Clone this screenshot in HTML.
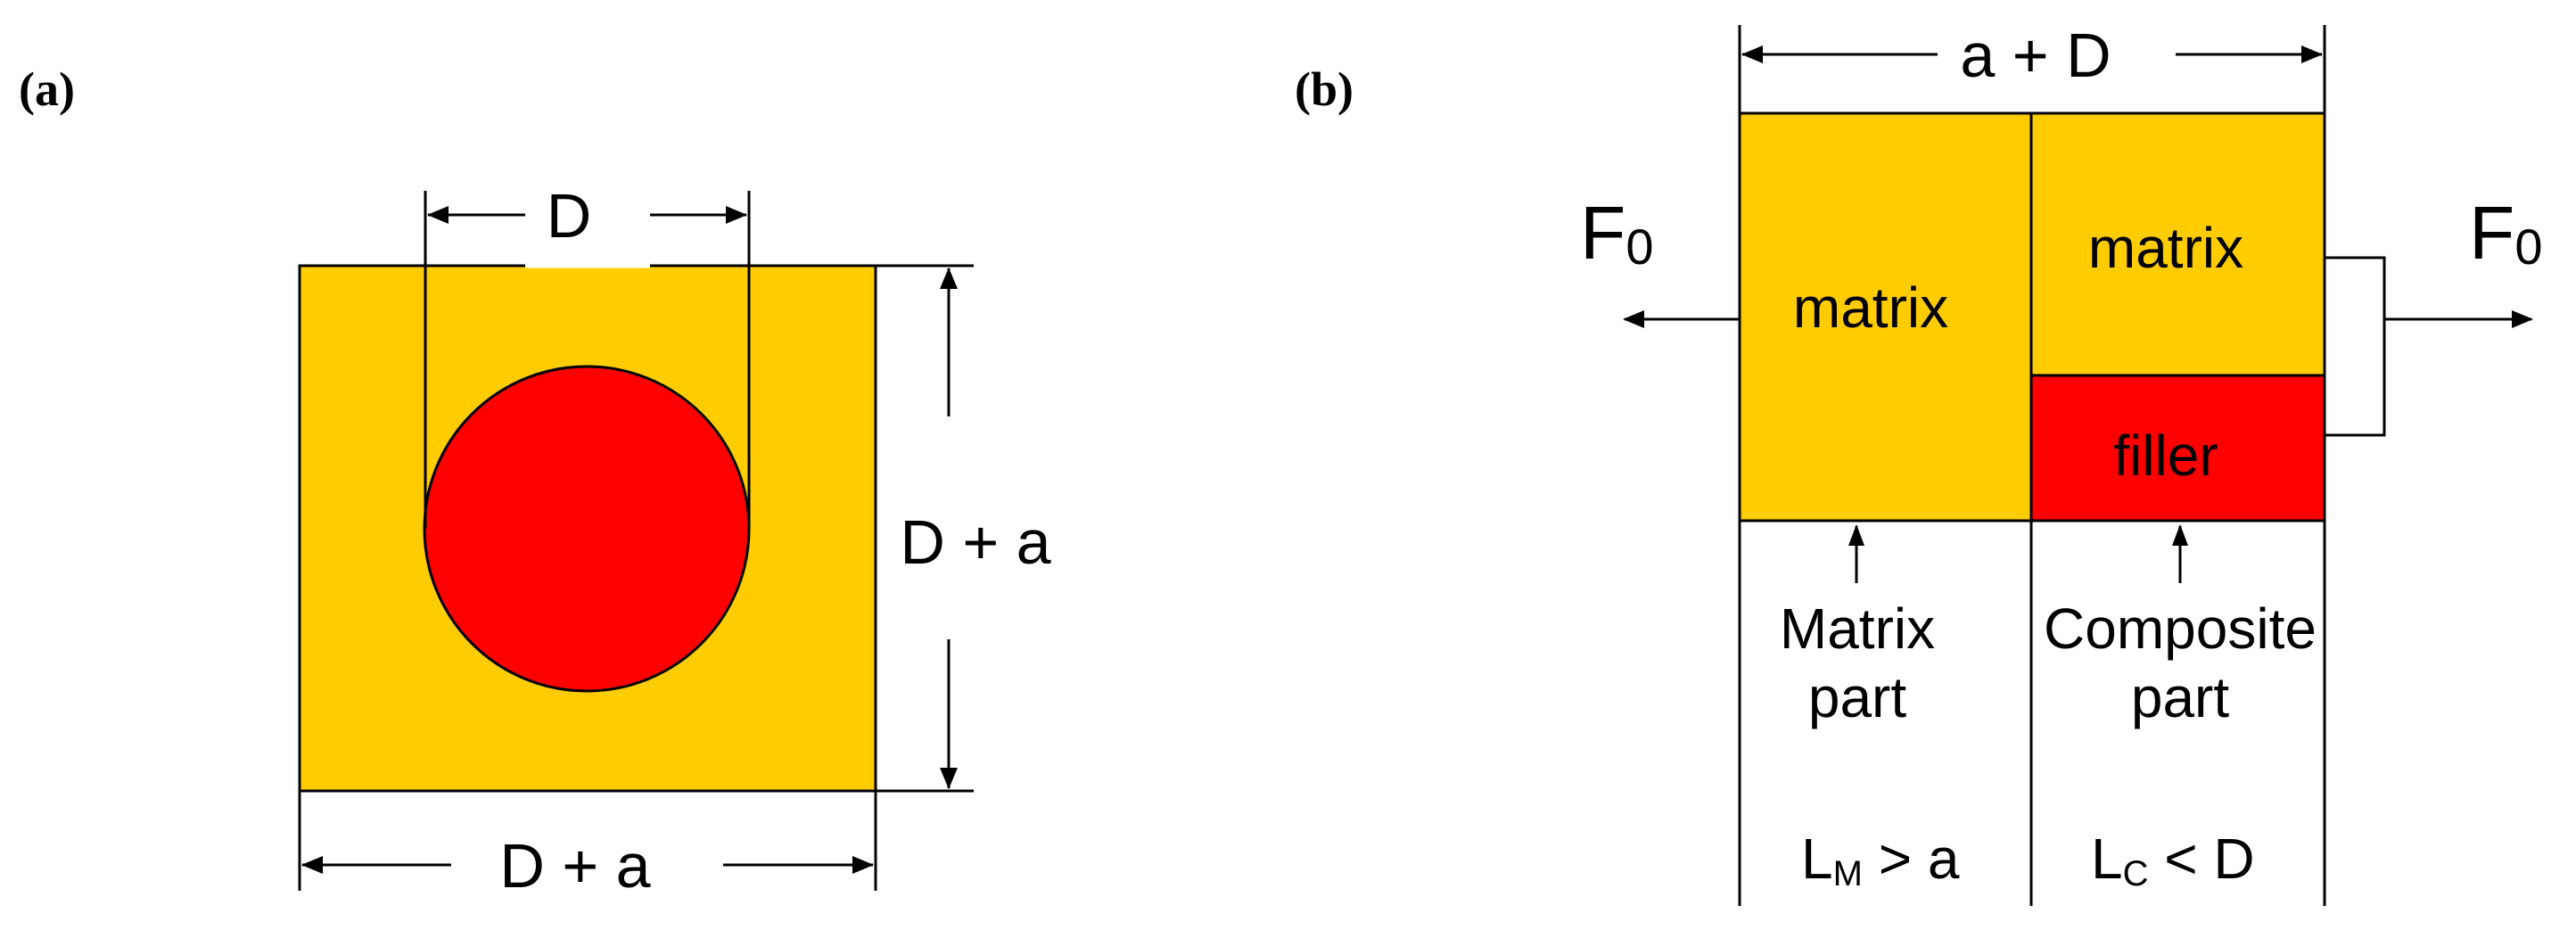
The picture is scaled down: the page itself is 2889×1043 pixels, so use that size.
<!DOCTYPE html>
<html><head><meta charset="utf-8"><style>
html,body{margin:0;padding:0;background:#fff;}
svg{display:block;}
text{font-family:"Liberation Sans",sans-serif;fill:#000;}
</style></head><body>
<svg width="2889" height="1043" viewBox="0 0 2889 1043" xmlns="http://www.w3.org/2000/svg">
<g stroke="#000" stroke-width="3" fill="none">
<!-- Panel a -->
<rect x="336" y="298" width="646" height="589" fill="#FFCC00"/>
<line x1="589" y1="298" x2="729" y2="298" stroke="#fff" stroke-width="5"/>
<circle cx="658" cy="593" r="182" fill="#FF0000"/>
<line x1="477" y1="214" x2="477" y2="593"/>
<line x1="840" y1="214" x2="840" y2="593"/>
<line x1="589" y1="241" x2="480" y2="241"/>
<line x1="729" y1="241" x2="837" y2="241"/>
<line x1="982" y1="298" x2="1092" y2="298"/>
<line x1="982" y1="887" x2="1092" y2="887"/>
<line x1="1064" y1="467" x2="1064" y2="301"/>
<line x1="1064" y1="717" x2="1064" y2="884"/>
<line x1="336" y1="887" x2="336" y2="999"/>
<line x1="982" y1="887" x2="982" y2="999"/>
<line x1="506" y1="970" x2="339" y2="970"/>
<line x1="811" y1="970" x2="979" y2="970"/>
<!-- Panel b -->
<rect x="1951" y="127" width="327" height="457" fill="#FFCC00"/>
<rect x="2278" y="127" width="329" height="294" fill="#FFCC00"/>
<rect x="2278" y="421" width="329" height="163" fill="#FF0000"/>
<line x1="1951" y1="28" x2="1951" y2="1016"/>
<line x1="2607" y1="28" x2="2607" y2="1016"/>
<line x1="2278" y1="584" x2="2278" y2="1016"/>
<line x1="2173" y1="61" x2="1954" y2="61"/>
<line x1="2440" y1="61" x2="2604" y2="61"/>
<line x1="1951" y1="358" x2="1822" y2="358"/>
<polyline points="2607,289 2674,289 2674,488 2607,488"/>
<line x1="2674" y1="358" x2="2839" y2="358"/>
<line x1="2082" y1="654" x2="2082" y2="590"/>
<line x1="2445" y1="654" x2="2445" y2="590"/>
</g>
<g fill="#000">
<path d="M479,241 l24,-10 v20z"/><path d="M838,241 l-24,-10 v20z"/>
<path d="M1064,300 l-10,24 h20z"/><path d="M1064,885 l-10,-24 h20z"/>
<path d="M338,970 l24,-10 v20z"/><path d="M980,970 l-24,-10 v20z"/>
<path d="M1953,61 l24,-10 v20z"/><path d="M2605,61 l-24,-10 v20z"/>
<path d="M1820,358 l24,-10 v20z"/><path d="M2841,358 l-24,-10 v20z"/>
<path d="M2082,588 l-9,24 h18z"/><path d="M2445,588 l-9,24 h18z"/>
</g>
<text x="21" y="118" font-weight="bold" font-size="54" style="font-family:'Liberation Serif',serif">(a)</text>
<text x="1452" y="118" font-weight="bold" font-size="54" style="font-family:'Liberation Serif',serif">(b)</text>
<g font-size="70" text-anchor="middle">
<text x="638" y="266">D</text>
<text x="1094" y="632">D + a</text>
<text x="645" y="995">D + a</text>
<text x="2283" y="86">a + D</text>
</g>
<g font-size="64" text-anchor="middle">
<text x="2098" y="367">matrix</text>
<text x="2429" y="300">matrix</text>
<text x="2429" y="533">filler</text>
<text x="2083" y="727">Matrix</text>
<text x="2083" y="804">part</text>
<text x="2445" y="727">Composite</text>
<text x="2445" y="804">part</text>
</g>
<text x="2020" y="985" font-size="64">L<tspan font-size="40" dy="8">M</tspan><tspan dy="-8"> &gt; a</tspan></text>
<text x="2345" y="985" font-size="64">L<tspan font-size="40" dy="8">C</tspan><tspan dy="-8"> &lt; D</tspan></text>
<text x="1772" y="290" font-size="84">F<tspan font-size="56" dy="6">0</tspan></text>
<text x="2769" y="290" font-size="84">F<tspan font-size="56" dy="6">0</tspan></text>
</svg>
</body></html>
